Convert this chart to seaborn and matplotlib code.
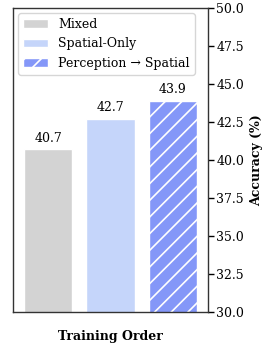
import matplotlib

matplotlib.use("Agg")

import matplotlib.pyplot as plt
import pandas as pd
import seaborn as sns

sns.set_theme(style="white")
plt.rcParams["font.family"] = ["DejaVu Serif"]
plt.rcParams["text.color"] = "black"
plt.rcParams["axes.labelcolor"] = "black"
plt.rcParams["ytick.color"] = "black"
plt.rcParams["hatch.color"] = "white"
plt.rcParams["hatch.linewidth"] = 1.2

# datos
orders = ["Mixed", "Spatial-Only", "Perception → Spatial"]
accuracy = [40.7, 42.7, 43.9]
colors = ["#d3d3d3", "#c5d5fa", "#8497f8"]

df = pd.DataFrame({"order": orders, "acc": accuracy})

fig = plt.figure(figsize=(2.78, 3.53), dpi=100)
ax = fig.add_axes([0.047, 0.116, 0.701, 0.861])

sns.barplot(
    data=df, x="order", y="acc", hue="order", palette=colors, saturation=1,
    dodge=False, width=0.78, edgecolor="white", linewidth=1, ax=ax, legend=False,
)
bars = ax.patches[:3]
bars[2].set_hatch("//")

for bar, v in zip(bars, accuracy):
    ax.text(bar.get_x() + bar.get_width() / 2, v + 0.3, f"{v:.1f}",
            ha="center", va="bottom", fontsize=9)

ax.set_ylim(30, 50)
ax.set_xlim(-0.56, 2.56)
ax.set_xticks([])
ax.yaxis.tick_right()
ax.yaxis.set_label_position("right")
ax.set_yticks([30, 32.5, 35, 37.5, 40, 42.5, 45, 47.5, 50])
ax.set_yticklabels([f"{t:.1f}" for t in ax.get_yticks()], fontsize=9)
ax.tick_params(axis="y", direction="out", length=4, width=1, colors="black",
               right=True, left=False, pad=2)
ax.set_ylabel("Accuracy (%)", fontsize=9, fontweight="bold", labelpad=4)
ax.set_xlabel("Training Order", fontsize=9, fontweight="bold", labelpad=13)
for s in ax.spines.values():
    s.set_color("#333333")
    s.set_linewidth(1)

ax.legend(bars, orders, loc="upper left", fontsize=9, frameon=True,
          handlelength=2.0, borderaxespad=0.4)

fig.savefig("out.png", dpi=100)
plt.close(fig)
